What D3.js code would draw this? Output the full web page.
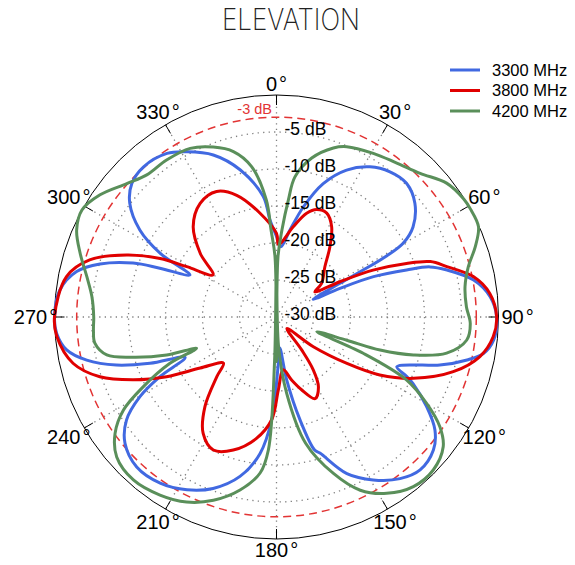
<!DOCTYPE html>
<html>
<head>
<meta charset="utf-8">
<script src="https://cdn.jsdelivr.net/npm/d3@7"></script>
<style>
body { margin: 0; background: #fff; }
text { font-family: "Liberation Sans", Arial, Helvetica, sans-serif; }
</style>
</head>
<body>
<div id="chart"></div>
<script>
// elevation pattern, dB vs angle (deg, clockwise from top)
var angles3300 = [0, 3.5, 8.8, 13.7, 19.3, 25.5, 31.9, 38, 44.2, 50.6, 56.6, 59.8, 61.0, 61.5, 61.9, 62.5, 64.3, 65.7, 67.4, 70.1,
  71.9, 74.6, 79.4, 84.6, 90, 96.1, 100, 102.7, 106.4, 108.5, 112.5, 114.6, 116, 120.8, 125.5, 130.3, 136.8, 142.6, 149.3, 155.8,
  162.3, 164, 167.1, 170.8, 174, 178, 182.7, 186.9, 192.9, 200.3, 207.4, 215, 223, 230.2, 235.5, 239.7, 242.9, 246.2, 249.9, 253.3,
  257.2, 261.1, 265.8, 270, 277.1, 282.8, 286.7, 290.6, 292.7, 295.9, 298.7, 302.5, 307.8, 312.7, 318.5, 326.2, 331.5, 338.7, 346.1, 353.7, 356.2];
var db3300 = [-19.1, -20.5, -18.1, -14.7, -10.9, -8.0, -6.1, -5.1, -4.8, -5.8, -7.9, -10.2, -13.0, -16.0, -19.7, -22.3, -24.5, -20.6, -15.8, -11.3,
  -8.2, -6.1, -2.9, -1.0, -0.25, -0.5, -1.6, -3.6, -7.0, -9.55, -12.4, -10.6, -9.5, -6.4, -3.7, -2.2, -1.65, -2.5, -4.4, -6.8,
  -10.7, -11.3, -15.7, -21.4, -25.8, -23.5, -16.1, -11.4, -7.9, -5.3, -3.7, -2.6, -2.3, -3.35, -5.4, -8.6, -12.3, -16.5, -11.8, -7.4,
  -3.7, -1.3, -0.2, 0, -0.5, -2.3, -5.1, -9.3, -12.9, -17.0, -12.1, -8.1, -4.9, -3.4, -2.9, -3.4, -4.6, -6.5, -9.5, -13.6, -16.9];

var angles3800 = [0, 1.6, 10.5, 16.2, 20.5, 25.8, 31.4, 37.3, 44, 53.3, 56.7, 60.9, 64.1, 67.6, 70.2, 73.5, 78.4, 83.7, 90, 95.2,
  101, 107.2, 114.1, 119.3, 123.4, 128.9, 137.9, 142.6, 145.2, 149, 154.7, 161, 166.4, 172.7, 178.6, 182.7, 189.6, 198, 205.4, 212.2,
  218.6, 225, 229, 236.2, 241.5, 246.3, 251.3, 257.2, 264.9, 270, 280.9, 287, 292.5, 296.7, 299.3, 303.6, 309.8, 317.3, 326.1, 334.5,
  341.9, 351];
var db3800 = [-18.7, -20.2, -17.6, -15.4, -14.5, -14.4, -15.7, -18.1, -20.6, -22.4, -23.8, -20.2, -15.5, -11.0, -7.9, -6.0, -2.85, -1.0, -0.25, -0.6,
  -2.0, -5.0, -9.7, -14.0, -18.6, -23.6, -27.9, -24.4, -21.3, -19.0, -17.8, -19.6, -21.2, -22.8, -20.1, -16.1, -13.3, -11.1, -10.1, -11.4,
  -14.5, -18.6, -20.5, -17.6, -13.1, -8.9, -4.8, -1.8, -0.2, 0, -1.1, -3.6, -8.1, -12.4, -16.1, -19.7, -16.6, -13.4, -11.5, -11.2,
  -12.7, -15.8];

var angles4200 = [0, 1.4, 3.6, 5.8, 7.5, 12.5, 18.6, 22.4, 30.6, 38, 45, 51.8, 57.7, 61, 65.9, 70.5, 75.3, 80.9, 86.9, 91.9,
  96.9, 102, 105.5, 107.7, 108.3, 110.1, 112.7, 115.8, 119.9, 123.9, 127.9, 134.3, 141.1, 148, 154.2, 160, 167, 172.4, 176, 180,
  182.5, 183.5, 186, 191.9, 199, 205.9, 213.2, 221.3, 228.8, 234.2, 238.7, 242.4, 246.5, 248.6, 250.9, 254.3, 257.4, 261.8, 265.9, 270,
  276.3, 282, 288, 293.5, 298.8, 304.7, 311.7, 317.6, 325, 332.9, 339.6, 345.4, 350.6, 355, 356.4, 358.6];
var db4200 = [-36, -21.9, -18.2, -14.1, -10.9, -8.0, -5.9, -5.1, -4.3, -3.6, -2.55, -0.75, -0.1, 0, -0.1, -1.5, -3.2, -4.2, -4.3, -3.8,
  -4.1, -6.5, -10.8, -15.3, -20.0, -24.2, -17.3, -10.5, -6.6, -3.4, -1.45, -0.4, -0.55, -1.9, -4.0, -7.5, -12.5, -19.6, -26, -37,
  -24, -12.0, -8.8, -6.1, -3.8, -2.2, -1.25, -0.7, -1.3, -3.1, -5.8, -9.7, -14.3, -18.4, -14.3, -9.9, -6.5, -5.2, -5.2, -5.3,
  -4.9, -3.8, -2.1, -0.55, 0, -1.0, -2.9, -4.0, -4.1, -4.4, -5.5, -6.9, -9.4, -14.1, -18.2, -21.9];

var seriesNames = ["3300 MHz", "3800 MHz", "4200 MHz"];
var seriesColors = ["#4169e1", "#e00000", "#5a8f5a"];
var angleTicks = [0, 30, 60, 90, 120, 150, 180, 210, 240, 270, 300, 330];
var dbGrid = [-5, -10, -15, -20, -25];
var dbLabels = [-5, -10, -15, -20, -25, -30];
var halfPower = -3;

var w = 575;
var h = 565;
var cx = 276.5, cy = 317, R = 222;

var svg = d3.select("#chart").append("svg")
  .attr("width", w)
  .attr("height", h);

// no clamp: values under -30 dB fold through the centre like the original
var rScale = d3.scaleLinear()
  .domain([-30, 0])
  .range([0, R]);

var rad = function(a) { return a * Math.PI / 180; };

var g = svg.append("g")
  .attr("transform", "translate(" + cx + "," + cy + ")");

// dotted grid
g.selectAll(".ring")
  .data(dbGrid)
  .enter().append("circle")
  .attr("r", function(d) { return rScale(d); })
  .attr("fill", "none")
  .attr("stroke", "#808080")
  .attr("stroke-width", 1.3)
  .attr("stroke-dasharray", "1.3 4.2");

g.selectAll(".spoke")
  .data(angleTicks)
  .enter().append("line")
  .attr("x1", 0).attr("y1", 0)
  .attr("x2", function(d) { return R * Math.sin(rad(d)); })
  .attr("y2", function(d) { return -R * Math.cos(rad(d)); })
  .attr("stroke", "#808080")
  .attr("stroke-width", 1.3)
  .attr("stroke-dasharray", "1.3 4.2");

// -3 dB circle
g.append("circle")
  .attr("r", rScale(halfPower))
  .attr("fill", "none")
  .attr("stroke", "#e23434")
  .attr("stroke-width", 1.5)
  .attr("stroke-dasharray", "8 5");

// outer circle and ticks
g.append("circle")
  .attr("r", R)
  .attr("fill", "none")
  .attr("stroke", "#000")
  .attr("stroke-width", 1);

g.selectAll(".tick")
  .data(angleTicks)
  .enter().append("line")
  .attr("x1", function(d) { return (R - 10) * Math.sin(rad(d)); })
  .attr("y1", function(d) { return -(R - 10) * Math.cos(rad(d)); })
  .attr("x2", function(d) { return R * Math.sin(rad(d)); })
  .attr("y2", function(d) { return -R * Math.cos(rad(d)); })
  .attr("stroke", "#000")
  .attr("stroke-width", 1);

// pattern curves
var line = d3.lineRadial()
  .angle(function(d) { return rad(d[0]); })
  .radius(function(d) { return rScale(d[1]); })
  .curve(d3.curveCatmullRomClosed.alpha(0.5));

var series = [d3.zip(angles3300, db3300), d3.zip(angles3800, db3800), d3.zip(angles4200, db4200)];

g.selectAll(".pattern")
  .data(series)
  .enter().append("path")
  .attr("d", line)
  .attr("fill", "none")
  .attr("stroke", function(d, i) { return seriesColors[i]; })
  .attr("stroke-width", 3)
  .attr("stroke-linejoin", "round");

// dB labels
g.selectAll(".dblabel")
  .data(dbLabels)
  .enter().append("text")
  .attr("x", 8)
  .attr("y", function(d) { return -rScale(d) - 3; })
  .attr("dy", "0.35em")
  .attr("font-size", 17.5)
  .text(function(d) { return d + " dB"; });

g.append("text")
  .attr("x", -4.5)
  .attr("y", -rScale(halfPower) - 8)
  .attr("dy", "0.35em")
  .attr("text-anchor", "end")
  .attr("font-size", 14.5)
  .attr("fill", "#e23434")
  .text(halfPower + " dB");

// angle labels
var angLab = g.selectAll(".anglabel")
  .data(angleTicks)
  .enter().append("text")
  .attr("x", function(d) { return (233 + 8 * Math.abs(Math.sin(rad(d)))) * Math.sin(rad(d)); })
  .attr("y", function(d) { return -(233 + 8 * Math.abs(Math.sin(rad(d)))) * Math.cos(rad(d)); })
  .attr("dy", "0.35em")
  .attr("text-anchor", "middle")
  .attr("font-size", 20);
angLab.append("tspan").text(function(d) { return d; });
angLab.append("tspan").attr("dx", 2).text("°");

// legend
var legend = svg.append("g")
  .attr("transform", "translate(450,70)");
var item = legend.selectAll(".item")
  .data(seriesNames)
  .enter().append("g")
  .attr("transform", function(d, i) { return "translate(0," + (i * 20.5) + ")"; });
item.append("line")
  .attr("x1", 0).attr("x2", 30)
  .attr("stroke", function(d, i) { return seriesColors[i]; })
  .attr("stroke-width", 3);
item.append("text")
  .attr("x", 42)
  .attr("dy", "0.35em")
  .attr("font-size", 16.5)
  .text(function(d) { return d; });

// title
svg.append("text")
  .attr("x", 291)
  .attr("y", 30)
  .attr("text-anchor", "middle")
  .attr("font-size", 30)
  .attr("font-weight", 200)
  .attr("textLength", 138)
  .attr("lengthAdjust", "spacingAndGlyphs")
  .style("font-family", "Inter, Lato, 'Open Sans', Roboto, sans-serif")
  .attr("fill", "#222")
  .text("ELEVATION");
</script>
</body>
</html>
